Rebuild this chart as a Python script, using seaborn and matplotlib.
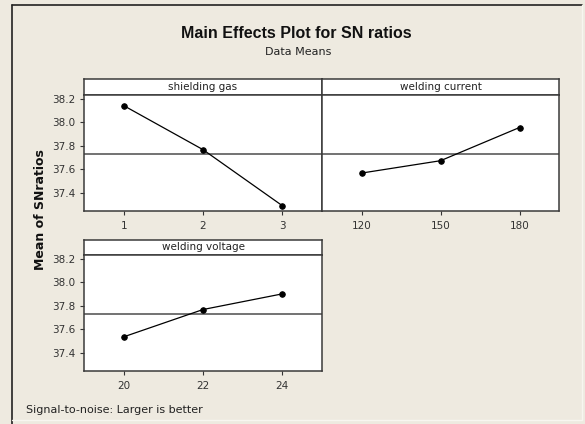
import numpy as np
import pandas as pd
import matplotlib
matplotlib.use("Agg")
import matplotlib.pyplot as plt
import seaborn as sns

# factor levels and mean SN ratios
gas_levels = ["1", "2", "3"]
gas_sn = [38.14, 37.766, 37.29]
current_levels = ["120", "150", "180"]
current_sn = [37.567, 37.672, 37.954]
voltage_levels = ["20", "22", "24"]
voltage_sn = [37.535, 37.767, 37.90]

factors = ["shielding gas", "welding current", "welding voltage"]
yticks = [37.4, 37.6, 37.8, 38.0, 38.2]

df = pd.concat([
    pd.DataFrame({"factor": "shielding gas", "level": gas_levels, "sn": gas_sn}),
    pd.DataFrame({"factor": "welding current", "level": current_levels, "sn": current_sn}),
    pd.DataFrame({"factor": "welding voltage", "level": voltage_levels, "sn": voltage_sn}),
])
grand_mean = np.mean(gas_sn)

sns.set_theme(style="white")
plt.rcParams["font.family"] = ["DejaVu Sans"]

W, H = 585, 424
bg = "#EEEAE0"
frame = "#3a3a3a"
fig = plt.figure(figsize=(W / 100, H / 100), dpi=100, facecolor=bg)


def px_axes(x0, y0, x1, y1):
    return fig.add_axes([x0 / W, 1 - y1 / H, (x1 - x0) / W, (y1 - y0) / H])


# outer frame: dark left/top, light right/bottom
fig.add_artist(plt.Line2D([12 / W, 12 / W], [0, 1 - 5 / H], color="#222222", lw=1.2))
fig.add_artist(plt.Line2D([12 / W, 582 / W], [1 - 5 / H, 1 - 5 / H], color="#222222", lw=1.2))
fig.add_artist(plt.Line2D([582 / W, 582 / W], [4 / H, 1 - 5 / H], color="#f8f6f0", lw=1))
fig.add_artist(plt.Line2D([12 / W, 582 / W], [4 / H, 4 / H], color="#f8f6f0", lw=1))

fig.text(296 / W, 1 - 33 / H, "Main Effects Plot for SN ratios", ha="center", va="center",
         fontsize=11.5, fontweight="bold", color="#111111", family=["Liberation Sans"])
fig.text(298 / W, 1 - 52 / H, "Data Means", ha="center", va="center", fontsize=8, color="#222222")

panels = [
    ("shielding gas", (84, 79, 322, 95, 211), True),
    ("welding current", (322, 79, 559, 95, 211), False),
    ("welding voltage", (84, 240, 322, 255, 371), True),
]

for name, (x0, ytop, x1, ystrip, ybot), show_y in panels:
    strip = px_axes(x0, ytop, x1, ystrip)
    strip.set_facecolor("white")
    strip.set_xticks([])
    strip.set_yticks([])
    for s in strip.spines.values():
        s.set_color(frame)
        s.set_linewidth(1.1)
    strip.text(0.5, 0.5, name, ha="center", va="center", fontsize=7.5, color="#222222",
               transform=strip.transAxes)

    ax = px_axes(x0, ystrip, x1, ybot)
    ax.set_facecolor("white")
    sub = df[df["factor"] == name]
    ax.axhline(grand_mean, color="#5a5a5a", lw=1.2, zorder=1)
    sns.pointplot(data=sub, x="level", y="sn", order=list(sub["level"]), ax=ax,
                  color="black", markers="o", markersize=4, linewidth=0.9, errorbar=None)
    ax.set_xlim(-0.5, 2.5)
    ax.set_ylim(37.245, 38.23)
    ax.set_xlabel("")
    ax.set_ylabel("")
    ax.set_yticks(yticks)
    ax.set_yticklabels([f"{v:.1f}" for v in yticks])
    ax.tick_params(axis="both", direction="out", length=3, width=0.8, colors="#333333",
                   labelsize=7.5, pad=3, left=show_y, bottom=True)
    ax.tick_params(axis="x", pad=4)
    if not show_y:
        ax.set_yticklabels([])
    for s in ax.spines.values():
        s.set_color(frame)
        s.set_linewidth(1.1)

fig.text(41 / W, 1 - 210 / H, "Mean of SNratios", rotation=90, ha="center", va="center",
         fontsize=9, fontweight="bold", color="#111111")
fig.text(26 / W, 1 - 410 / H, "Signal-to-noise: Larger is better", ha="left", va="center",
         fontsize=8, color="#222222")

fig.savefig("out.png", dpi=100, facecolor=bg)
